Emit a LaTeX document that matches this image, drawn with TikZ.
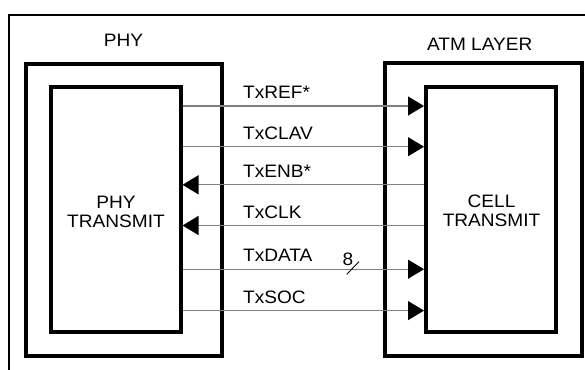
\documentclass[tikz,border=0pt]{standalone}
\usepackage{fontspec}
\setmainfont{Liberation Sans}[FakeStretch=1.06]
\usetikzlibrary{arrows.meta}
\begin{document}
\begin{tikzpicture}[x=1pt,y=-1pt,
  every node/.style={font=\fontsize{18}{18.4}\selectfont, inner sep=0pt},
  thickbox/.style={draw, line width=4pt, inner sep=0pt},
  sig/.style={draw=gray, line width=1.2pt, -{Triangle[length=16pt,width=19pt,color=black]}},
  siglabel/.style={anchor=base west},
  boxtext/.style={align=center}]
\useasboundingbox (0,0) rectangle (585,369);
\fill[white] (0,0) rectangle (585,369);
\begin{scope}
\clip (0,0) rectangle (585,369);
\draw[line width=2pt] (8.8,375) -- (8.8,15.5) -- (590,15.5);
\end{scope}
% boxes
\node[thickbox, minimum width=195.7pt, minimum height=292.6pt] (phy) at (124.15,210) {};
\node[thickbox, minimum width=197.3pt, minimum height=293pt] (atm) at (483.35,209.5) {};
\node[thickbox, minimum width=129.2pt, minimum height=245pt] (phyin) at (115.9,209.5) {};
\node[thickbox, minimum width=130pt, minimum height=245pt] (cellin) at (491,209.5) {};
% titles
\node[anchor=base] (phylbl) at (123.5,46.7) {PHY};
\node[anchor=base] (atmlbl) at (479.7,50) {ATM LAYER};
\node[boxtext] (phytxt) at (116,212) {PHY\\TRANSMIT};
\node[boxtext] (celltxt) at (491.5,211) {CELL\\TRANSMIT};
% signals
\draw[sig] (phyin.east |- 0,106) -- (cellin.west |- 0,106);
\draw[sig] (phyin.east |- 0,146.7) -- (cellin.west |- 0,146.7);
\draw[sig] (cellin.west |- 0,184.8) -- (phyin.east |- 0,184.8);
\draw[sig] (cellin.west |- 0,225.5) -- (phyin.east |- 0,225.5);
\draw[sig] (phyin.east |- 0,269.2) -- (cellin.west |- 0,269.2);
\draw[sig] (phyin.east |- 0,310.6) -- (cellin.west |- 0,310.6);
% labels
\node[siglabel] (l1) at (243,98.5) {TxREF*};
\node[siglabel] (l2) at (243,139.2) {TxCLAV};
\node[siglabel] (l3) at (243,177.3) {TxENB*};
\node[siglabel] (l4) at (243,218) {TxCLK};
\node[siglabel] (l5) at (243,261.7) {TxDATA};
\node[siglabel] (l6) at (243,303.1) {TxSOC};
\node[siglabel] (eight) at (342.5,265.7) {8};
\draw[line width=0.9pt] (346.7,274.3) -- (359,261.7);
\end{tikzpicture}
\end{document}
